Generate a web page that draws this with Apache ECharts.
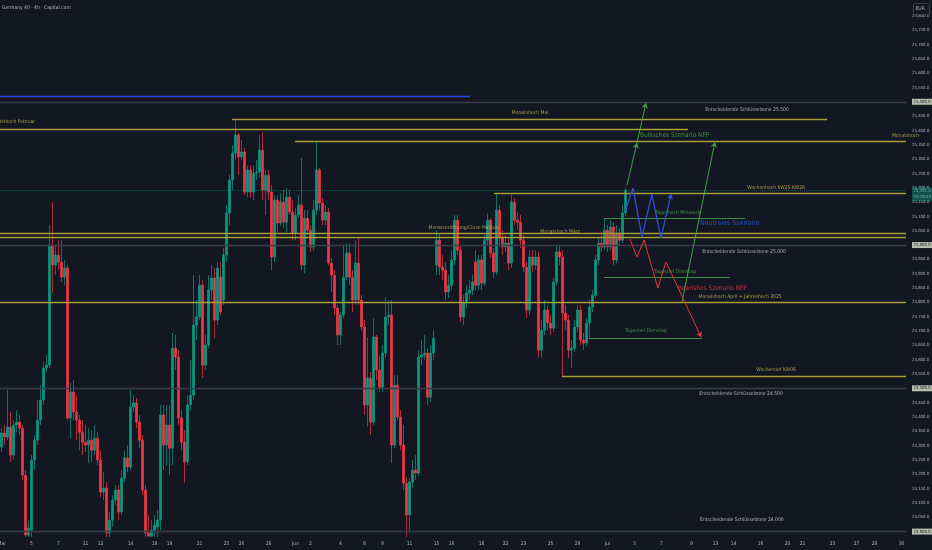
<!DOCTYPE html>
<html><head><meta charset="utf-8"><title>Germany 40 4h</title>
<style>html,body{margin:0;padding:0;background:#131722;}#chart{width:932px;height:550px;}</style>
<script src="https://cdn.jsdelivr.net/npm/echarts/dist/echarts.min.js"></script>
</head><body><div id="chart"></div>
<script>
const chartTitle = 'Germany 40 · 4h · Capital.com';
const currency = 'EUR';

const opens = [
24295,24344,24330,24365,24267,24372,24382,24361,24197,23988,
24005,24250,24319,24389,24459,24571,24581,25000,24930,24965,
24941,24888,24920,24396,24487,24417,24389,24347,24312,24302,
24319,24284,24326,24250,24138,24152,23995,24040,24110,24145,
24068,24187,24257,24225,24435,24449,24382,24319,24145,23995,
23984,24005,24016,24040,24407,24302,24372,24291,24640,24609,
24396,24312,24243,24442,24476,24721,24749,24860,24581,24651,
24843,24885,24738,24888,24808,24965,25112,25227,25321,25384,
25307,25325,25185,25262,25185,25251,25255,25331,25192,25244,
25185,24958,25157,25077,25150,25080,25167,25115,25042,25105,
25140,24930,25094,25052,24993,25122,25262,25147,25087,25115,
24937,24895,24780,24686,24756,24888,24972,24888,24808,24937,
24808,24714,24442,24536,24382,24679,24564,24504,24623,24749,
24756,24302,24511,24400,24302,24169,24058,24173,24215,24204,
24609,24616,24623,24469,24623,24930,25017,24923,24913,24836,
24860,24948,25087,24982,24749,24798,24832,24843,24941,24860,
24948,24867,25017,25087,24972,24906,25122,25028,24993,25007,
24937,25150,25087,25080,25017,24923,24773,24958,24930,24958,
24633,24703,24773,24728,24710,24871,24976,24958,24763,24738,
24633,24640,24714,24773,24668,24658,24728,24784,24825,24948,
25007,24993,25052,24993,25063,24948,25042,25017,25112];
const closes = [
24344,24330,24365,24267,24372,24382,24361,24197,23988,24012,
24250,24319,24389,24459,24571,24581,25000,24930,24965,24941,
24888,24920,24396,24487,24417,24389,24347,24312,24302,24319,
24284,24326,24250,24138,24152,23995,24040,24110,24145,24068,
24187,24257,24225,24435,24449,24382,24319,24145,23995,23984,
24005,24023,24040,24407,24302,24372,24291,24640,24609,24396,
24312,24243,24442,24476,24721,24749,24860,24581,24651,24843,
24885,24738,24920,24766,24965,25112,25227,25321,25384,25307,
25325,25185,25262,25185,25251,25255,25331,25192,25244,25185,
24958,25157,25077,25150,25080,25167,25115,25042,25105,25140,
24930,25094,25052,24993,25122,25262,25147,25087,25115,24937,
24895,24780,24686,24756,24888,24972,24888,24808,24937,24808,
24714,24442,24536,24382,24679,24564,24504,24623,24749,24756,
24302,24511,24400,24302,24169,24058,24173,24215,24204,24609,
24616,24623,24469,24623,24675,25017,24923,24913,24836,24860,
24948,25087,24982,24749,24798,24832,24843,24871,24860,24948,
24867,25017,25087,24972,24906,25122,25028,24993,25007,24937,
25150,25087,25080,25017,24923,24773,24958,24930,24958,24633,
24703,24773,24728,24710,24871,24976,24958,24763,24738,24633,
24640,24714,24773,24668,24658,24728,24784,24825,24948,25007,
24993,25052,24993,25063,24948,25042,25017,25112,25191];
const lows = [
24278,24302,24319,24243,24250,24347,24337,24180,23981,23981,
23981,24215,24302,24372,24442,24557,24571,24832,24895,24913,
24871,24860,24389,24326,24389,24319,24284,24267,24278,24239,
24243,24267,24232,24120,24110,23981,23981,24016,24093,24040,
24058,24173,24208,24215,24417,24361,24291,24127,23981,23981,
23981,23981,23981,24005,24215,24232,24197,24232,24564,24372,
24284,24169,24232,24424,24459,24668,24738,24536,24564,24640,
24808,24675,24721,24756,24791,24941,25070,25192,25297,25244,
25297,25174,25167,25164,25157,25227,25234,25157,25105,25157,
24913,24941,25045,25066,25059,25045,25105,25017,25017,25094,
24913,24902,25035,24976,24982,25105,25122,25070,25070,24930,
24836,24756,24651,24651,24745,24878,24860,24766,24791,24791,
24703,24407,24365,24337,24372,24529,24487,24487,24606,24721,
24239,24291,24389,24284,24145,23981,24005,24152,24180,24194,
24581,24599,24442,24452,24599,24895,24895,24878,24808,24815,
24843,24930,24965,24731,24721,24780,24808,24825,24843,24843,
24843,24857,25000,24955,24885,24895,25000,24965,24976,24913,
24920,25070,25052,24989,24906,24745,24756,24906,24913,24609,
24606,24686,24703,24686,24696,24860,24930,24543,24703,24606,
24571,24627,24696,24651,24633,24647,24675,24766,24815,24930,
24976,24982,24976,24982,24930,24937,25000,25007,25101];
const highs = [
24361,24372,24494,24417,24389,24424,24407,24372,24215,24040,
24267,24337,24459,24511,24592,24616,25070,25150,25000,25017,
25017,24948,24930,24518,24529,24476,24407,24389,24372,24361,
24354,24372,24347,24284,24208,24173,24068,24127,24162,24162,
24215,24284,24302,24494,24476,24466,24407,24337,24162,24058,
24040,24058,24075,24442,24442,24442,24442,24693,24686,24633,
24424,24354,24476,24599,24895,24808,24895,24878,24686,24895,
24930,24920,24941,24941,24989,25140,25244,25349,25436,25391,
25366,25338,25279,25279,25279,25297,25384,25394,25262,25262,
25209,25174,25174,25181,25192,25199,25192,25157,25129,25174,
25304,25122,25122,25070,25157,25359,25269,25164,25140,25129,
24955,24913,24791,24766,25000,25007,25007,24913,25017,25024,
24825,24738,24679,24557,24745,24686,24616,24651,24818,24808,
24808,24546,24546,24424,24372,24190,24187,24250,24267,24633,
24668,24686,24640,24651,24703,25052,25042,24965,24941,24895,
24982,25105,25105,25000,24825,24860,24878,24895,24982,24965,
24965,25035,25112,25094,24989,25181,25140,25052,25035,25024,
25174,25164,25115,25105,25035,24941,24982,24982,24982,24976,
24738,24808,24791,24756,24885,25000,25000,24982,24791,24756,
24668,24738,24791,24791,24693,24745,24808,24843,24965,25024,
25035,25094,25070,25087,25080,25070,25059,25140,25199];

const slotCount = 302;
const tickLabels = ['Mai','5','7','11','12','14','18','19','21','25','26','28','Jun','2','4','8','9','11','15','16','18','22','23','25','29','Jul','3','7','9','13','14','16','20','21','23','27','28','30'];
const tickSlots = [0,10,19,28,33,43,51,56,66,75,80,89,98,103,113,121,127,136,145,150,160,168,174,183,192,202,211,220,230,238,244,253,262,267,277,285,291,300];

const priceMin = 23950, priceMax = 25850, priceStep = 50;
const keyLevels = [25500, 25000, 24500, 24000];
const lastPrice = 25191;
const countdown = '03:28:49';

const levelPrices = [25520, 25500, 25440, 25405, 25363, 25180, 25042, 25028, 25000, 25094, 24887, 24800, 24675, 24543, 24500, 24000];
const levelFrom   = [-0.5, -0.5, 76.8, -0.5, 97.8, 164.2, -0.5, -0.5, -0.5, 200.8, 200.8, -0.5, 195.8, 186.8, -0.5, -0.5];
const levelTo     = [156.2, 301.5, 275.2, 228.8, 301.5, 301.5, 301.5, 301.5, 301.5, 247.8, 242.8, 301.5, 233.5, 301.5, 301.5, 301.5];
const levelKinds  = ['blue','grey','yellow','yellow','yellow','yellow','yellow','yellow','grey','green','green','yellow','green','yellow','grey','grey'];

const noteTexts = ['Monatshoch Mai','Entscheidende Schlüsselzone 25.500','Monatshoch Februar','Monatshoch','Bullisches Szenario NFP','Wochenhoch KW25-KW26','Tageshoch Mittwoch','Neutrales Szenario','Monatseröffnung/Close Mai/Juni','Monatshoch März','Entscheidende Schlüsselzone 25.000','Tagestief Dienstag','Bearishes Szenario NFP','Monatshoch April + Jahreshoch 2025','Tagestief Dienstag','Wochentief KW06','Entscheidende Schlüsselzone 24.500','Entscheidende Schlüsselzone 24.000'];
const noteSlots  = [176.2, 248.5, 11.2, 296.8, 212.8, 258.2, 225.5, 232.8, 154.2, 186.2, 247.5, 224.5, 225.5, 246.2, 214.8, 258.2, 246.5, 246.8];
const notePrices = [25461, 25471, 25429, 25380, 25384, 25199, 25112, 25077, 25059, 25045, 24976, 24906, 24850, 24818, 24700, 24564, 24480, 24040];
const noteKinds  = ['yellow','white','yellowR','yellowL','bull','yellow','green','neutral','yellow','yellow','white','green','bear','yellow','green','yellow','white','white'];

const bullishPathA = [[208.5,25209],[211.8,25356]];
const bullishPathB = [[211.8,25356],[214.8,25495]];
const bullishPathC = [[226.8,24801],[237.8,25359]];
const neutralPath  = [[207.8,25115],[210.5,25199],[213.5,25028],[216.8,25178],[219.8,25024],[223.2,25178]];
const bearishPath  = [[209.5,25021],[211.8,24958],[214.2,25017],[218.8,24850],[221.5,24941],[233.2,24679]];

// ---------- build ----------
const FONT = "'Liberation Sans Narrow','DejaVu Sans Condensed','Liberation Sans',sans-serif";
const AXIS_COLOR = '#b2b5be';
const fmt = v => Number(v).toLocaleString('en-US', {minimumFractionDigits: 1, maximumFractionDigits: 1});
const slotNames = Array.from({length: slotCount}, (_, i) => String(i));
const tickMap = {};
tickSlots.forEach((s, k) => { tickMap[s] = tickLabels[k]; });
const candles = opens.map((o, i) => [o, closes[i], lows[i], highs[i]]);

const levelStyle = {
  yellow: {color: '#a89c3b', width: 1.3},
  grey:   {color: '#3a3e4a', width: 1.3},
  green:  {color: '#3e8a47', width: 1},
  blue:   {color: '#2846d8', width: 1.3}
};
const levelSeries = Object.keys(levelStyle).map(kind => ({
  type: 'lines', coordinateSystem: 'cartesian2d', xAxisIndex: 1, yAxisIndex: 0,
  z: 3, silent: true, symbol: 'none',
  lineStyle: Object.assign({opacity: 1, type: 'solid'}, levelStyle[kind]),
  data: levelPrices.map((p, i) => ({p, i}))
    .filter(o => levelKinds[o.i] === kind)
    .map(o => ({coords: [[levelFrom[o.i], o.p], [levelTo[o.i], o.p]]}))
}));

function pathSeries(path, color, width) {
  const segs = [];
  for (let i = 0; i < path.length - 1; i++) segs.push({coords: [path[i], path[i + 1]]});
  const last = segs.pop();
  const base = {type: 'lines', coordinateSystem: 'cartesian2d', xAxisIndex: 1, yAxisIndex: 0,
    z: 6, silent: true, lineStyle: {color, width, opacity: 1}};
  return [
    Object.assign({}, base, {symbol: 'none', data: segs}),
    Object.assign({}, base, {symbol: ['none', 'arrow'], symbolSize: 5, data: [last]})
  ];
}

const noteStyle = {
  yellow:  {color: '#cdbf5a', fontSize: 5, align: 'center'},
  yellowR: {color: '#cdbf5a', fontSize: 5, align: 'right'},
  yellowL: {color: '#cdbf5a', fontSize: 5, align: 'left'},
  white:   {color: '#d1d4dc', fontSize: 5, align: 'center'},
  green:   {color: '#4caf50', fontSize: 5, align: 'center'},
  bull:    {color: '#4caf50', fontSize: 6.5, align: 'left'},
  neutral: {color: '#2e62e0', fontSize: 7, align: 'left'},
  bear:    {color: '#f23645', fontSize: 6.5, align: 'left'}
};

const noteSeries = {
  type: 'scatter', xAxisIndex: 1, yAxisIndex: 0, symbolSize: 1, z: 7, silent: true,
  itemStyle: {color: 'rgba(0,0,0,0)'},
  data: noteTexts.map((t, i) => ({
    name: t, value: [noteSlots[i], notePrices[i]],
    label: Object.assign({show: true, position: 'inside', formatter: t, fontFamily: FONT, verticalAlign: 'middle'}, noteStyle[noteKinds[i]])
  }))
};

const chart = echarts.init(document.getElementById('chart'), null, {renderer: 'canvas'});
chart.setOption({
  animation: false,
  backgroundColor: '#131722',
  grid: {left: 0, right: 26, top: 1.5, bottom: 4.1, containLabel: false, outerBoundsMode: 'none'},
  xAxis: [
    {type: 'category', data: slotNames, boundaryGap: true,
      axisLine: {show: false}, axisTick: {show: false}, splitLine: {show: false},
      axisLabel: {
        interval: (idx) => tickMap[idx] !== undefined,
        formatter: (v, idx) => tickMap[idx] !== undefined ? tickMap[idx] : '',
        color: AXIS_COLOR, fontSize: 5, fontFamily: FONT, margin: -5
      }},
    {type: 'value', min: -0.5, max: slotCount - 0.5, show: false, position: 'top'}
  ],
  yAxis: {
    type: 'value', position: 'right', min: priceMin, max: priceMax, interval: priceStep,
    splitLine: {show: false}, axisLine: {show: false}, axisTick: {show: false},
    axisLabel: {
      margin: 6, fontSize: 4.3, color: AXIS_COLOR, fontFamily: FONT,
      showMinLabel: false, showMaxLabel: false,
      formatter: v => keyLevels.indexOf(v) >= 0 ? '{hl|' + fmt(v) + '}' : fmt(v),
      rich: {hl: {backgroundColor: '#b7beb0', color: '#131722', padding: [1, 1.5], fontSize: 4.3, fontFamily: FONT}}
    }
  },
  graphic: [
    {type: 'text', left: 2, top: 5, z: 10, style: {text: chartTitle, fill: AXIS_COLOR, font: '5px ' + FONT}},
    {type: 'rect', left: 913, top: 3, z: 10, shape: {width: 16, height: 11, r: 1}, style: {fill: '#131722', stroke: '#3a3e4a', lineWidth: 1}},
    {type: 'text', left: 915.5, top: 6, z: 11, style: {text: currency, fill: AXIS_COLOR, font: '5px ' + FONT}}
  ],
  series: [
    {
      type: 'candlestick', xAxisIndex: 0, yAxisIndex: 0, z: 2, data: candles, barWidth: 2,
      itemStyle: {color: '#089981', color0: '#f23645', borderColor: '#089981', borderColor0: '#f23645', borderWidth: 0.7},
      markLine: {
        silent: true, symbol: 'none', z: 4,
        data: [{yAxis: lastPrice}],
        lineStyle: {color: '#089981', type: 'dotted', width: 1, opacity: 0.45},
        label: {position: 'end', distance: 6, offset: [0, 4], formatter: fmt(lastPrice) + '\n' + countdown,
          backgroundColor: '#089981', color: '#ffffff', fontSize: 4.3, lineHeight: 6, padding: [1, 1.5], fontFamily: FONT}
      }
    },
    ...levelSeries,
    ...pathSeries(bullishPathA, '#43a047', 1),
    ...pathSeries(bullishPathB, '#43a047', 1),
    ...pathSeries(bullishPathC, '#43a047', 1),
    ...pathSeries(neutralPath, '#2f4fd8', 1.3),
    ...pathSeries(bearishPath, '#e53935', 1),
    noteSeries
  ]
});
</script></body></html>
